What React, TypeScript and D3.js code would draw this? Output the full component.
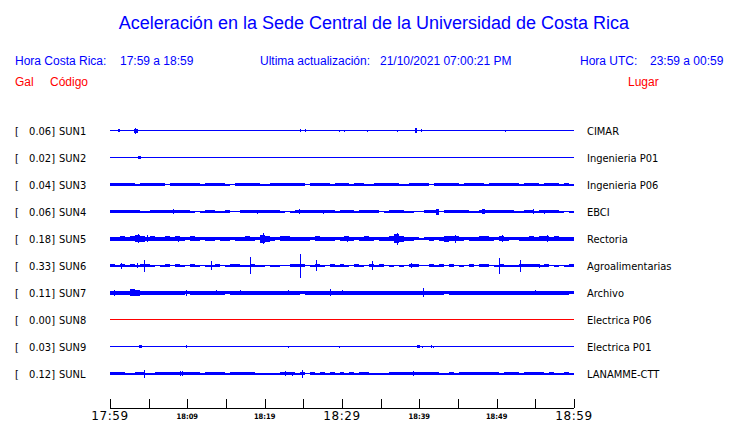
import React from 'react';
import * as d3 from 'd3';

// ---------- data ----------
const title = 'Aceleración en la Sede Central de la Universidad de Costa Rica';
const localLabel = 'Hora Costa Rica:';
const localRange = '17:59 a 18:59';
const updateLabel = 'Ultima actualización:';
const updateValue = '21/10/2021 07:00:21 PM';
const utcLabel = 'Hora UTC:';
const utcRange = '23:59 a 00:59';

const codes = ['SUN1', 'SUN2', 'SUN3', 'SUN4', 'SUN5', 'SUN6', 'SUN7', 'SUN8', 'SUN9', 'SUNL'];
const peaks = [0.06, 0.02, 0.04, 0.06, 0.18, 0.33, 0.11, 0.0, 0.03, 0.12];
const places = ['CIMAR', 'Ingenieria P01', 'Ingenieria P06', 'EBCI', 'Rectoria', 'Agroalimentarias', 'Archivo', 'Electrica P06', 'Electrica P01', 'LANAMME-CTT'];

// minutes after 17:59
const tickMinutes = [0, 5, 10, 15, 20, 25, 30, 35, 40, 45, 50, 55, 60];
const tickLabels = ['17:59', '', '18:09', '', '18:19', '', '18:29', '', '18:39', '', '18:49', '', '18:59'];
const majorTicks = ['17:59', '18:29', '18:59'];

// noise envelope per station: one digit per time bin, half-amplitude in half-units
const envSUN1 = ['1111111111', '1111111111', '1111111111', '1111111111', '1111111111', '1111111111', '1111111111', '1111111111', '1111111111', '111'];
const envSUN2 = ['1111111111', '1111111111', '1111111111', '1111111111', '1111111111', '1111111111', '1111111111', '1111111111', '1111111111', '111'];
const envSUN3 = ['33333233333', '1', '333333', '2', '3333', '21', '3333', '32', '2', '3333333', '1', '3333', '2', '3',
  '33', '2', '33', '22', '33333', '22', '3333', '1', '33333', '2', '3333', '2', '333333', '2', '333', '2', '333', '232'];
const envSUN4 = ['33333', '3', '2', '2', '3333', '3', '333', '212', '33', '22', '31', '1', '333', '3', '3333', '212', '333', '333', '33', '2',
  '333', '2', '3333', '12', '333', '22', '11', '333', '1', '33333', '22', '3', '333333', '22', '33', '2', '3333', '212'];
const envSUN5 = ['4454576454', '4545435434', '4344344543', '8643554444', '354443',
  '4543454344', '5964432343', '4655434455', '4354334454', '5545444'];
const envSUN6 = ['3232323321', '2313213212', '2312332232', '2122113331', '232132',
  '3213213231', '2121331132', '3131213133', '1232223333', '2312123'];
const envSUN7 = ['4444564444', '4444434444', '4443444444', '4444444434', '444444',
  '4444444444', '4444444444', '4344444444', '4444444444', '4444443'];
const envSUN8 = ['1111111111', '1111111111', '1111111111', '1111111111', '1111111111', '1111111111', '1111111111', '1111111111', '1111111111', '111'];
const envSUN9 = ['1111111111', '1111111111', '1111111111', '1111111111', '1111111111', '1111111111', '1111111111', '1111111111', '1111111111', '111'];
const envSUNL = ['3332233223', '3333333323', '3332333332', '2222333231', '323232',
  '3232332222', '3333333333', '2232333333', '3323332333', '3232232'];

// bursts per station: [minute, half-amplitude, duration in minutes]
const burstSUN1 = [[1.03, 1.5, 0.26], [3.1, 2, 0.52], [3.17, 3, 0], [24.57, 1.5, 0], [25.22, 1.5, 0], [29.61, 1, 0], [30.26, 1, 0], [33.23, 1, 0], [37.11, 1, 0], [39.45, 2.5, 0.2], [40.22, 1.5, 0], [51.08, 1, 0]];
const burstSUN2 = [[3.62, 1.5, 0.45]];
const burstSUN3: number[][] = [];
const burstSUN4 = [[8.11, 2.5, 0], [18.97, 2, 0], [24.44, 2.5, 0], [27.58, 2, 0], [42.2, 3, 0.4], [48.1, 2.5, 0.4], [54.66, 2.5, 0], [56.12, 2, 0]];
const burstSUN5 = [[3.66, 4.5, 0], [4.78, 3.5, 0], [8.84, 3, 0], [19.82, 5.7, 0], [30.6, 3, 0], [37.15, 6, 0], [44.61, 4, 0], [50.65, 3.5, 0], [56.47, 3.5, 0]];
const burstSUN6 = [[1.46, 3, 0], [3.53, 2.5, 0], [4.44, 6, 0], [13.1, 4.5, 0], [18.14, 8.5, 0], [24.61, 12, 0], [26.68, 5.5, 0], [33.92, 4.5, 0], [38.88, 2.5, 0], [50.34, 8, 0], [53.06, 6, 0], [55.44, 2, 0]];
const burstSUN7 = [[0.56, 3, 0], [2.59, 3.3, 0.65], [3.66, 2.5, 0], [9.83, 3, 0], [13.67, 2.5, 0], [16.81, 2.5, 0], [23.06, 2.5, 0], [28.45, 3.5, 0], [29.96, 2.5, 0], [34.69, 2, 0], [40.51, 4.5, 0], [44.96, 2, 0], [54.96, 2.5, 0], [55.6, 2, 0]];
const burstSUN8: number[][] = [];
const burstSUN9 = [[3.79, 1.5, 0.39], [9.87, 1.5, 0], [23.06, 1, 0], [29.65, 1, 0], [39.74, 1.5, 0.35], [40.34, 1, 0], [41.47, 1.5, 0], [41.81, 1, 0]];
const burstSUNL = [[4.44, 4, 0], [9.05, 2.5, 0], [9.27, 2.5, 0], [22.63, 2.5, 0], [23.5, 2, 0], [24.79, 4, 0], [39.22, 2.5, 0]];

const envelopes = [envSUN1, envSUN2, envSUN3, envSUN4, envSUN5, envSUN6, envSUN7, envSUN8, envSUN9, envSUNL];
const bursts = [burstSUN1, burstSUN2, burstSUN3, burstSUN4, burstSUN5, burstSUN6, burstSUN7, burstSUN8, burstSUN9, burstSUNL];

// ---------- component ----------
const BLUE = '#0000ff';
const RED = '#ff0000';
const HEAD_FONT = "'Liberation Sans', Arial, Helvetica, sans-serif";
const LABEL_FONT = "'DejaVu Sans Condensed', 'DejaVu Sans', sans-serif";

export default function App() {
  const W = 740;
  const H = 423;
  const x = d3.scaleLinear().domain([0, 60]).range([110, 574]);
  const rowY = d3.scaleLinear().domain([0, codes.length - 1]).range([130.5, 373.5]);
  const amp = d3.scaleLinear().domain([0, 1]).range([0, 1]);

  const axisY = 408;

  return (
    <svg width={W} height={H} style={{ position: 'absolute', left: 0, top: 0, background: '#fff' }}>
      <rect x={0} y={0} width={W} height={H} fill="#fff" />
      {/* title */}
      <text x={374} y={29} textAnchor="middle" fontFamily={HEAD_FONT} fontSize={18} fill={BLUE}>{title}</text>
      {/* header row */}
      <g fontFamily={HEAD_FONT} fontSize={12} fill={BLUE}>
        <text x={15} y={65}>{localLabel}</text>
        <text x={120} y={65}>{localRange}</text>
        <text x={260} y={65}>{updateLabel}</text>
        <text x={380} y={65}>{updateValue}</text>
        <text x={580} y={65}>{utcLabel}</text>
        <text x={650} y={65}>{utcRange}</text>
      </g>
      <g fontFamily={HEAD_FONT} fontSize={12} fill={RED}>
        <text x={15} y={86}>Gal</text>
        <text x={50} y={86}>Código</text>
        <text x={628} y={86}>Lugar</text>
      </g>

      {/* traces */}
      {codes.map((code, i) => {
        const cy = rowY(i);
        const env = envelopes[i].join('');
        const n = env.length;
        const pts = env.split('').map((c, k) => ({ t: (k * 60) / n, h: +c / 2 }));
        pts.push({ t: 60, h: pts[pts.length - 1].h });
        const area = d3
          .area<{ t: number; h: number }>()
          .x((d) => x(d.t))
          .y0((d) => cy + amp(d.h))
          .y1((d) => cy - amp(d.h))
          .curve(d3.curveStepAfter);
        const color = peaks[i] === 0 ? RED : BLUE;
        return (
          <g key={code} shapeRendering="crispEdges">
            <path d={area(pts) || ''} fill={color} />
            {bursts[i].map((b, k) => {
              const x0 = x(b[0]);
              const w = Math.max(1, x(b[0] + b[2]) - x0);
              return <rect key={k} x={x0} y={cy - amp(b[1])} width={w} height={2 * amp(b[1])} fill={color} />;
            })}
            <g fontFamily={LABEL_FONT} fontSize={11} fill="#000" style={{ fontStretch: 'condensed' }}>
              <text x={15} y={cy + 4}>[</text>
              <text x={55} y={cy + 4} textAnchor="end">{peaks[i].toFixed(2) + ']'}</text>
              <text x={59} y={cy + 4}>{code}</text>
              <text x={587} y={cy + 4}>{places[i]}</text>
            </g>
          </g>
        );
      })}

      {/* time axis */}
      <g shapeRendering="crispEdges" stroke="#000" strokeWidth={1}>
        <line x1={x(0)} x2={x(60)} y1={axisY} y2={axisY} />
        {tickMinutes.map((m) => (
          <line key={m} x1={Math.round(x(m)) + 0.5} x2={Math.round(x(m)) + 0.5} y1={axisY - 9} y2={axisY} />
        ))}
      </g>
      {tickMinutes.map((m, k) => {
        const lbl = tickLabels[k];
        if (!lbl) return null;
        const major = majorTicks.includes(lbl);
        return major ? (
          <text key={m} x={x(m)} y={420} textAnchor="middle" fontFamily="'DejaVu Sans', sans-serif" fontSize={12} letterSpacing={0.6} fill="#000">{lbl}</text>
        ) : (
          <text key={m} x={x(m)} y={419} textAnchor="middle" fontFamily={LABEL_FONT} fontWeight="bold" fontSize={7.5} fill="#000" style={{ fontStretch: 'condensed' }}>{lbl}</text>
        );
      })}
    </svg>
  );
}
